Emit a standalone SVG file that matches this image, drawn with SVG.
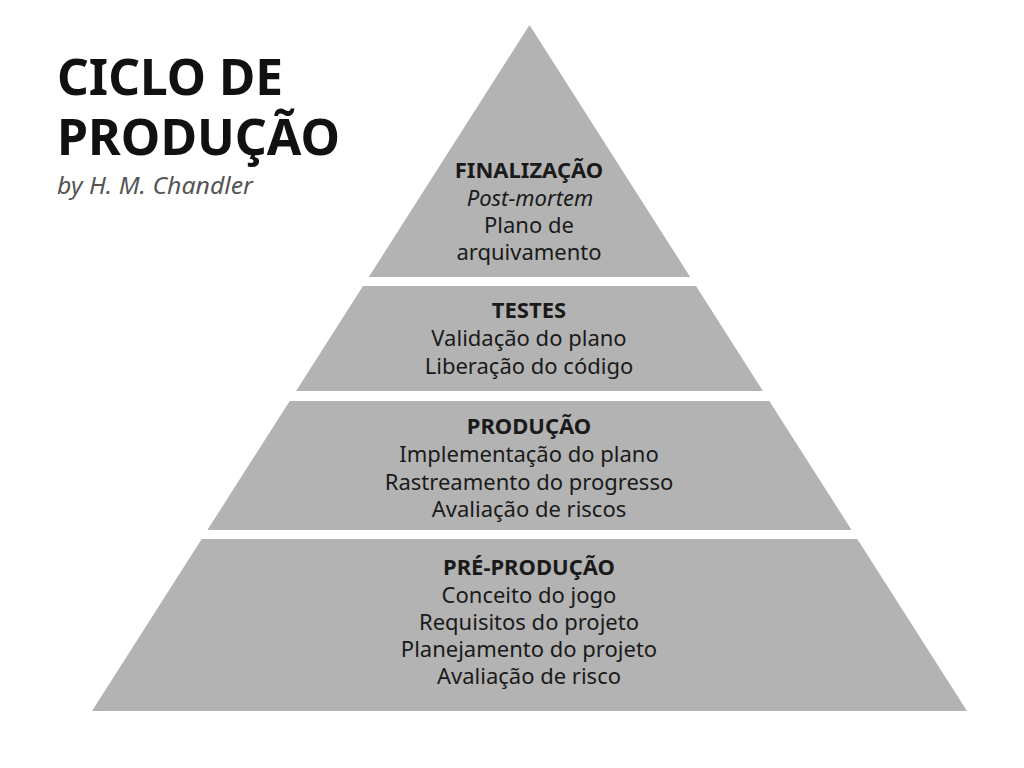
<svg xmlns="http://www.w3.org/2000/svg" width="1024" height="768" viewBox="0 0 1024 768">
  <style>
    .band { fill: #b3b3b3; }
    .t { font-family: "Noto Sans", "Open Sans", sans-serif; font-size: 22px; fill: #1a1a1a; text-anchor: middle; }
    .b { font-weight: bold; }
    .i { font-style: italic; }
    .title { font-family: "Noto Sans", "Open Sans", sans-serif; font-weight: bold; font-size: 51px; fill: #111111; }
    .sub { font-family: "Noto Sans", "Open Sans", sans-serif; font-style: italic; font-size: 23px; fill: #555555; }
  </style>
  <rect width="1024" height="768" fill="#ffffff"/>
  <g id="title">
    <text class="title" x="57" y="95" textLength="226" lengthAdjust="spacingAndGlyphs">CICLO DE</text>
    <text class="title" x="57" y="155" textLength="283" lengthAdjust="spacingAndGlyphs">PRODUÇÃO</text>
    <text class="sub" x="57" y="194" textLength="196" lengthAdjust="spacingAndGlyphs">by H. M. Chandler</text>
  </g>
  <g id="finalizacao">
    <polygon class="band" points="529.5,25 690.2,277 368.8,277"/>
    <text class="t b" x="529" y="178">FINALIZAÇÃO</text>
    <text class="t i" x="530" y="205.5">Post-mortem</text>
    <text class="t" x="529" y="233">Plano de</text>
    <text class="t" x="529" y="260">arquivamento</text>
  </g>
  <g id="testes">
    <polygon class="band" points="363,286 696,286 762.9,391 296.1,391"/>
    <text class="t b" x="529" y="317.5">TESTES</text>
    <text class="t" x="529" y="346">Validação do plano</text>
    <text class="t" x="529" y="373.5">Liberação do código</text>
  </g>
  <g id="producao">
    <polygon class="band" points="289.7,401 769.3,401 851.6,530 207.4,530"/>
    <text class="t b" x="529" y="434">PRODUÇÃO</text>
    <text class="t" x="529" y="461.5">Implementação do plano</text>
    <text class="t" x="529" y="489.5">Rastreamento do progresso</text>
    <text class="t" x="529" y="516.5">Avaliação de riscos</text>
  </g>
  <g id="pre-producao">
    <polygon class="band" points="201.7,539 857.3,539 967,711 92,711"/>
    <text class="t b" x="529" y="575">PRÉ-PRODUÇÃO</text>
    <text class="t" x="529" y="602.5">Conceito do jogo</text>
    <text class="t" x="529" y="630">Requisitos do projeto</text>
    <text class="t" x="529" y="657">Planejamento do projeto</text>
    <text class="t" x="529" y="684">Avaliação de risco</text>
  </g>
  <g id="connectors"></g>
</svg>
